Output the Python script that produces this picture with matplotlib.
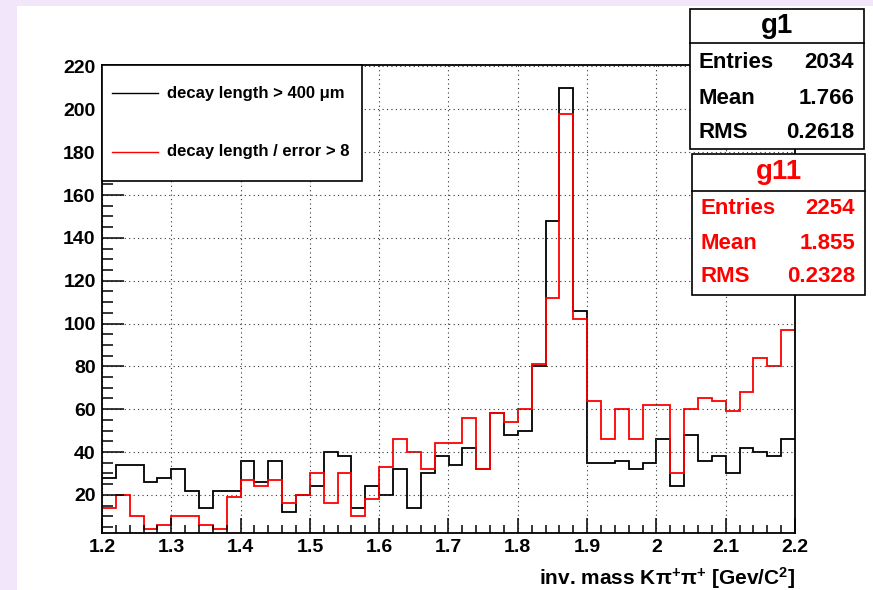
import matplotlib
matplotlib.use("Agg")
import matplotlib.pyplot as plt
import numpy as np
from matplotlib.patches import Rectangle
from matplotlib.lines import Line2D
from matplotlib.ticker import MultipleLocator

plt.rcParams['font.family'] = ['Liberation Sans', 'DejaVu Sans']
plt.rcParams['font.weight'] = 'bold'
plt.rcParams['mathtext.fontset'] = 'custom'
plt.rcParams['mathtext.rm'] = 'Liberation Sans:bold'
plt.rcParams['mathtext.it'] = 'Liberation Sans:bold'
plt.rcParams['mathtext.bf'] = 'Liberation Sans:bold'
plt.rcParams['mathtext.default'] = 'rm'

# histogram binning: 50 bins of 0.02 between 1.2 and 2.2
x_min, x_max, n_bins = 1.2, 2.2, 50
bin_edges = np.linspace(x_min, x_max, n_bins + 1)

# g1 : decay length > 400 um
g1_counts = [28, 34, 34, 26, 28, 32, 22, 14, 22, 22,
             36, 26, 36, 12, 20, 24, 40, 38, 14, 24,
             20, 32, 14, 30, 38, 34, 42, 32, 58, 48,
             50, 80, 148, 210, 106, 35, 35, 36, 32, 35,
             46, 24, 48, 36, 38, 30, 42, 40, 38, 46]
# g11 : decay length / error > 8
g11_counts = [14, 20, 10, 4, 6, 10, 10, 6, 4, 19,
              27, 24, 27, 16, 20, 30, 16, 30, 10, 18,
              33, 46, 40, 32, 44, 44, 56, 32, 58, 54,
              60, 81, 112, 198, 102, 64, 46, 60, 46, 62,
              62, 30, 60, 65, 64, 59, 68, 84, 80, 97]

legend_labels = ["decay length > 400 \u03bcm", "decay length / error > 8"]
stat_names = ["Entries", "Mean", "RMS"]
g1_stats = ["2034", "1.766", "0.2618"]
g11_stats = ["2254", "1.855", "0.2328"]

x_ticks = [1.2, 1.3, 1.4, 1.5, 1.6, 1.7, 1.8, 1.9, 2.0, 2.1, 2.2]
x_tick_labels = ["1.2", "1.3", "1.4", "1.5", "1.6", "1.7", "1.8", "1.9", "2", "2.1", "2.2"]
y_ticks = [20, 40, 60, 80, 100, 120, 140, 160, 180, 200, 220]

W, H = 873, 590


def fx(px):
    return px / W


def fy(py):
    return 1 - py / H


fig = plt.figure(figsize=(W / 100, H / 100), dpi=100)
fig.patch.set_facecolor('#f1e6fa')
fig.add_artist(Rectangle((fx(17), 0), 1 - fx(17), fy(6), transform=fig.transFigure,
                         facecolor='white', edgecolor='none', zorder=0))

ax = fig.add_axes([fx(102), fy(533), fx(795) - fx(102), fy(65) - fy(533)])

h1 = ax.stairs(g1_counts, bin_edges, baseline=None, color='black', lw=1.3)
h2 = ax.stairs(g11_counts, bin_edges, baseline=None, color='red', lw=1.3)

ax.set_xlim(x_min, x_max)
ax.set_ylim(2.2, 220.7)
ax.set_xticks(x_ticks)
ax.set_xticklabels(x_tick_labels)
ax.set_yticks(y_ticks)
ax.xaxis.set_minor_locator(MultipleLocator(0.02))
ax.yaxis.set_minor_locator(MultipleLocator(5))
ax.tick_params(which='both', direction='in', width=1.1, labelsize=14, top=False, right=False)
ax.tick_params(axis='y', which='major', length=16, pad=4.5)
ax.tick_params(axis='y', which='minor', length=8)
ax.tick_params(axis='x', which='major', length=11, pad=4)
ax.tick_params(axis='x', which='minor', length=5.5)
ax.grid(which='major', color='#333333', linestyle=(0, (1, 3)), linewidth=0.8)
for sp in ax.spines.values():
    sp.set_linewidth(1.3)

# legend box
fig.add_artist(Rectangle((fx(102), fy(181)), fx(362) - fx(102), fy(65) - fy(181),
                         transform=fig.transFigure, facecolor='white',
                         edgecolor='black', lw=1.2, zorder=5))
for handle, label, py in zip([h1, h2], legend_labels, [93, 152]):
    fig.add_artist(Line2D([fx(112), fx(158)], [fy(py), fy(py)], transform=fig.transFigure,
                          color=handle.get_edgecolor(), lw=1.0, zorder=6))
    fig.text(fx(167), fy(py), label, ha='left', va='center', fontsize=12, zorder=6)


# stat boxes
def stat_box(left, right, top, sep, bottom, title, values, color, rows_y, title_y):
    fig.add_artist(Rectangle((fx(left), fy(bottom)), fx(right) - fx(left), fy(top) - fy(bottom),
                             transform=fig.transFigure, facecolor='white',
                             edgecolor='black', lw=1.2, zorder=5))
    fig.add_artist(Line2D([fx(left), fx(right)], [fy(sep), fy(sep)], transform=fig.transFigure,
                          color='black', lw=1.2, zorder=6))
    fig.text(fx((left + right) / 2), fy(title_y), title, ha='center', va='center',
             fontsize=20, color=color, zorder=6)
    for name, val, py in zip(stat_names, values, rows_y):
        fig.text(fx(left + 9), fy(py), name, ha='left', va='center', fontsize=16,
                 color=color, zorder=6)
        fig.text(fx(right - 10), fy(py), val, ha='right', va='center', fontsize=16,
                 color=color, zorder=6)


stat_box(690, 864, 9, 43, 149, "g1", g1_stats, 'black', [62, 99, 133], 26)
stat_box(692, 865, 154, 191, 295, "g11", g11_stats, 'red', [208, 243, 277], 172)

fig.text(fx(795), fy(585), r"inv. mass K$\pi^{+}\pi^{+}$ [Gev/C$^{2}$]",
         ha='right', va='baseline', fontsize=15)

fig.savefig('out.png', dpi=100)
